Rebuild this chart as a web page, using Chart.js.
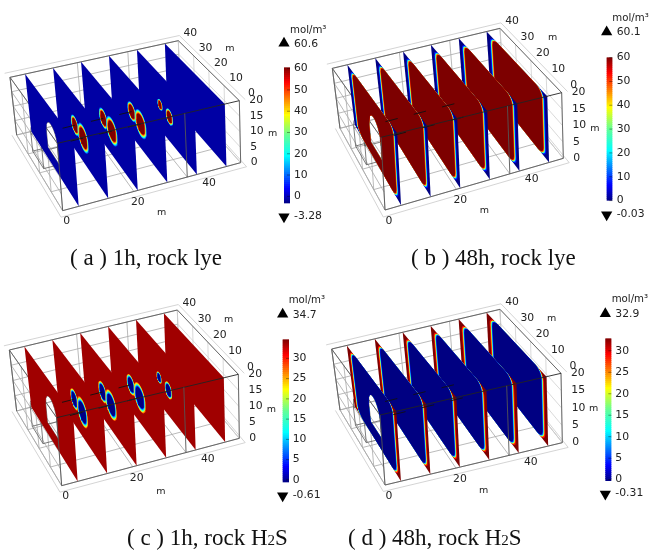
<!DOCTYPE html>
<html>
<head>
<meta charset="utf-8">
<script src="https://cdn.jsdelivr.net/npm/chart.js@4"></script>
<style>
    html, body { margin: 0; padding: 0; background: #fff; }
    #wrap { position: relative; width: 653px; height: 550px; overflow: hidden; }
    #chart { position: absolute; left: 0; top: 0; filter: blur(0.55px); }
    .cap { position: absolute; font-family: "Liberation Serif", serif; font-size: 23px; line-height: 26px; color: #111; white-space: pre; }
    .cap span { font-size: 15px; }
</style>
</head>
<body>
<div id="wrap">
    <canvas id="chart" width="653" height="550"></canvas>
    <div class="cap" style="left:70px;top:245px">( a ) 1h, rock lye</div>
    <div class="cap" style="left:411px;top:245px">( b ) 48h, rock lye</div>
    <div class="cap" style="left:127px;top:525px">( c ) 1h, rock H<span>2</span>S</div>
    <div class="cap" style="left:348px;top:525px">( d ) 48h, rock H<span>2</span>S</div>
</div>
<script>
// model size in metres
const sizeX = 50, sizeY = 40, sizeZ = 20;
const sliceX = [4.5, 12.8, 21.1, 29.4, 37.7, 46];

// tubes cut by the slices: slice index, y, z, radius
const tubeSlice = [1, 1, 2, 2, 3, 3, 4, 4];
const tubeY = [25, 18.5, 25, 18.5, 25, 18.5, 25, 18.5];
const tubeZ = [9, 8.5, 9, 8.5, 9, 8.5, 9, 8.5];
const tubeR = [3.1, 4.4, 3.2, 4.4, 3.1, 4.4, 1.8, 2.6];

// tick values of the box
const tickX = [0, 20, 40];
const tickY = [0, 10, 20, 30, 40];
const tickZ = [0, 5, 10, 15, 20];
const gridX = [0, 20, 35, 50];

// colour bars
const barMin = [-3.28, -0.03, -0.61, -0.31];
const barMax = [60.6, 60.1, 34.7, 32.9];
const barTicks = [
    [0, 10, 20, 30, 40, 50, 60],
    [0, 10, 20, 30, 40, 50, 60],
    [0, 5, 10, 15, 20, 25, 30],
    [0, 5, 10, 15, 20, 25, 30]
];

// rings round a tube [radius factor, level], rims of the long slices [inset m, level]
const tubeRings = [[1, .2], [.94, .34], [.89, .48], [.84, .62], [.79, .74], [.74, .86], [.69, 1]];
const edgeRims = [[1.8, .12], [2.4, .25], [2.6, .37], [2.8, .5], [3, .62], [3.2, .75], [3.4, .88], [3.7, 1]];

const jetStops = [
    [0, 0, 0, 130], [.11, 0, 0, 255], [.35, 0, 255, 255], [.5, 100, 255, 150],
    [.65, 255, 255, 0], [.89, 255, 0, 0], [1, 125, 0, 0]
];

// layout, all measured on 3x crops of each quadrant
const cropOrigin = [[0, 0], [325, 0], [0, 275], [325, 275]];
// corners: 000, 100, 001, 101, 010, 110, 011, 111 (x y z)
const cameras = [
    [[188, 632], [722, 488], [172, 430], [718, 302], [50, 405], [540, 285], [30, 232], [535, 122]],
    [[180, 630], [715, 475], [168, 412], [710, 278], [45, 385], [535, 255], [22, 205], [525, 85]],
    [[185, 632], [718, 490], [170, 428], [715, 298], [50, 408], [537, 275], [28, 225], [532, 105]],
    [[180, 630], [712, 503], [165, 420], [708, 295], [45, 405], [533, 278], [20, 222], [525, 103]]
];
const barBox = [[852, 870, 202, 610], [845, 862, 172, 602], [848, 867, 193, 622], [841, 859, 190, 618]];
const titleX = [[485, 637], [478, 632], [483, 650], [476, 647]];
const titleY = [[690, 145], [683, 112], [686, 133], [680, 132]];
const titleZ = [[818, 402], [810, 385], [814, 403], [806, 401]];
const unitPos = [[870, 90], [862, 55], [866, 75], [860, 73]];
const topY = [132, 98, 120, 118];
const bottomY = [648, 642, 660, 655];

// panel a and c show tubes, b and d the long rims; c and d have the colours turned round
const isEdge = [false, true, false, true];
const isFlipped = [false, false, true, true];

function jet(t) {
    t = Math.max(0, Math.min(1, t));
    for (let i = 1; i < jetStops.length; i++) {
        if (t <= jetStops[i][0]) {
            const a = jetStops[i - 1], b = jetStops[i];
            const f = (t - a[0]) / (b[0] - a[0]);
            return 'rgb(' + [1, 2, 3].map(k => Math.round(a[k] + (b[k] - a[k]) * f)).join(',') + ')';
        }
    }
    return 'rgb(125,0,0)';
}

function project(p, x, y, z) {
    const c = cameras[p], u = x / sizeX, v = y / sizeY, w = z / sizeZ;
    const out = [0, 1].map(k => {
        const b0 = c[0][k] + (c[1][k] - c[0][k]) * u, t0 = c[2][k] + (c[3][k] - c[2][k]) * u;
        const b1 = c[4][k] + (c[5][k] - c[4][k]) * u, t1 = c[6][k] + (c[7][k] - c[6][k]) * u;
        const near = b0 + (t0 - b0) * w, far = b1 + (t1 - b1) * w;
        return near + (far - near) * v;
    });
    return { x: cropOrigin[p][0] + out[0] / 3, y: cropOrigin[p][1] + out[1] / 3 };
}

function crop(p, x, y) {
    return { x: cropOrigin[p][0] + x / 3, y: cropOrigin[p][1] + y / 3 };
}

const marks = [];
const texts = [];

function addLine(pts, color, width) {
    marks.push({ data: pts, showLine: true, fill: false, borderColor: color, borderWidth: width, pointRadius: 0 });
}
function addFill(pts, color) {
    marks.push({ data: pts, showLine: true, fill: 'shape', backgroundColor: color, borderColor: color, borderWidth: 0, pointRadius: 0 });
}
function addText(text, pos, align, font) {
    texts.push({ text: text, x: pos.x, y: pos.y, align: align || 'left', font: font || '10.8px "DejaVu Sans"' });
}

// outline in the plane of a slice, y and z in metres
function rimShape(inset) {
    const y0 = inset, y1 = sizeY - inset, r = 4, rz = 2.5, pts = [];
    const corners = [[y0 + r, rz, 180], [y1 - r, rz, 270], [y1 - r, sizeZ - rz, 0], [y0 + r, sizeZ - rz, 90]];
    corners.forEach(c => {
        for (let a = 0; a <= 90; a += 15) {
            const rad = (c[2] + a) * Math.PI / 180;
            pts.push([c[0] + r * Math.cos(rad), c[1] + rz * Math.sin(rad)]);
        }
    });
    return pts;
}
function holeShape() {
    const pts = [[15.5, 4], [25, 4], [25, 9.5]];
    for (let a = 15; a < 180; a += 15) {
        pts.push([20.25 + 4.75 * Math.cos(a * Math.PI / 180), 9.5 + 4.75 * Math.sin(a * Math.PI / 180)]);
    }
    pts.push([15.5, 9.5]);
    return pts;
}
function slicePts(p, x, shape, withHole) {
    let pts = shape;
    if (withHole) {
        const hole = holeShape().reverse();
        pts = shape.concat([shape[0]], hole, [hole[0]], [shape[0]]);
    }
    return pts.map(q => project(p, x, q[0], q[1]));
}

function addBox(p) {
    const light = '#cfcfcf', mid = '#a8a8a8', dark = '#5c5c5c';
    gridX.forEach(x => {
        addLine([project(p, x, 0, 0), project(p, x, sizeY, 0)], mid, 0.8);
        addLine([project(p, x, sizeY, 0), project(p, x, sizeY, sizeZ)], mid, 0.8);
    });
    tickY.forEach(y => {
        addLine([project(p, 0, y, 0), project(p, sizeX, y, 0)], mid, 0.8);
        addLine([project(p, 0, y, 0), project(p, 0, y, sizeZ)], mid, 0.8);
        addLine([project(p, sizeX, y, 0), project(p, sizeX, y, sizeZ)], light, 0.8);
    });
    tickZ.forEach(z => {
        addLine([project(p, 0, 0, z), project(p, 0, sizeY, z)], mid, 0.8);
        addLine([project(p, 0, sizeY, z), project(p, sizeX, sizeY, z)], mid, 0.8);
        addLine([project(p, sizeX, 0, z), project(p, sizeX, sizeY, z)], light, 0.8);
    });
    // the lighter outer frame
    const sx = -1, ex = sizeX + 1, sy = -1.5, ey = sizeY + 1.5;
    addLine([project(p, sx, sy, -0.8), project(p, ex, sy, -0.8), project(p, ex, ey, -0.8)], light, 0.9);
    addLine([project(p, sx, sy, -0.8), project(p, sx, ey, -0.8)], light, 0.9);
    addLine([project(p, sx, ey, 20.8), project(p, ex, ey, 20.8), project(p, ex, sy, 20.8)], light, 0.9);
    addLine([project(p, 0, 0, sizeZ), project(p, 0, sizeY, sizeZ), project(p, sizeX, sizeY, sizeZ)], dark, 0.9);
    addLine([project(p, 0, 0, 0), project(p, sizeX, 0, 0), project(p, sizeX, 0, sizeZ)], dark, 0.9);
    addLine([project(p, sizeX, sizeY, sizeZ), project(p, sizeX, 0, sizeZ)], dark, 0.9);
    addLine([project(p, 0, sizeY, 0), project(p, 0, sizeY, sizeZ)], dark, 0.9);
    // tunnel wire behind the first slice
    const wire = holeShape();
    wire.push(wire[0]);
    addLine(wire.map(q => project(p, 0, q[0], q[1])), dark, 0.8);
    addLine(wire.map(q => project(p, sliceX[0], q[0], q[1])), dark, 0.8);
    [[15.5, 4], [25, 4], [25, 9.5], [15.5, 9.5]].forEach(q => {
        addLine([project(p, 0, q[0], q[1]), project(p, sliceX[0], q[0], q[1])], dark, 0.8);
    });
}

function addSlices(p) {
    const level = t => jet(isFlipped[p] ? 1 - t : t);
    const plain = [[0, 0], [sizeY, 0], [sizeY, sizeZ], [0, sizeZ]];
    for (let i = sliceX.length - 1; i >= 0; i--) {
        const x = sliceX[i];
        const base = isEdge[p] ? 0 : 0.03;
        addFill(slicePts(p, x, plain, i === 0), level(base));
        if (isEdge[p]) {
            edgeRims.forEach(r => addFill(slicePts(p, x, rimShape(r[0]), i === 0), level(r[1])));
        } else {
            tubeSlice.forEach((s, k) => {
                if (s !== i) return;
                tubeRings.forEach(r => {
                    const pts = [];
                    for (let a = 0; a < 360; a += 12) {
                        const rad = a * Math.PI / 180;
                        pts.push(project(p, x, tubeY[k] + tubeR[k] * r[0] * Math.cos(rad), tubeZ[k] + tubeR[k] * r[0] * Math.sin(rad)));
                    }
                    addFill(pts, level(r[1]));
                });
            });
        }
    }
}

function addFront(p) {
    tubeSlice.forEach((s, k) => {
        if (s > 3) return;
        addLine([project(p, sliceX[s] - 3.6, tubeY[k], tubeZ[k]), project(p, sliceX[s], tubeY[k], tubeZ[k])], '#111', 0.9);
    });
    addLine([project(p, 0, 0, sizeZ), project(p, sizeX, 0, sizeZ)], '#222', 0.9);
    addLine([project(p, 0, 0, 0), project(p, 0, 0, sizeZ)], '#555', 0.9);
    addLine([project(p, 35, 0, 0), project(p, 35, 0, sizeZ)], '#555', 0.9);
}

function addLabels(p) {
    tickX.forEach(v => {
        const q = project(p, v, 0, 0);
        addText(String(v), { x: q.x + 4, y: q.y + 11 }, 'center');
    });
    tickY.forEach(v => {
        const q = project(p, sizeX, v, sizeZ);
        addText(String(v), { x: q.x + 12, y: q.y - 7 }, 'center');
    });
    tickZ.forEach(v => {
        const q = project(p, sizeX, 0, v);
        addText(String(v), { x: q.x + 10, y: q.y }, 'left');
    });
    addText('m', crop(p, titleX[p][0], titleX[p][1]), 'center', '9.5px "DejaVu Sans"');
    addText('m', crop(p, titleY[p][0], titleY[p][1]), 'center', '9.5px "DejaVu Sans"');
    addText('m', crop(p, titleZ[p][0], titleZ[p][1]), 'center', '9.5px "DejaVu Sans"');
}

function addBar(p) {
    const b = barBox[p], min = barMin[p], max = barMax[p];
    const valueY = v => b[3] + (b[2] - b[3]) * (v - min) / (max - min);
    const bands = 70;
    for (let i = 0; i < bands; i++) {
        const y0 = b[3] + (b[2] - b[3]) * i / bands, y1 = b[3] + (b[2] - b[3]) * (i + 1.4) / bands;
        const top = Math.max(y1, b[2]);
        addFill([crop(p, b[0], y0), crop(p, b[1], y0), crop(p, b[1], top), crop(p, b[0], top)], jet((i + .5) / bands));
    }
    barTicks[p].forEach(v => {
        const y = valueY(v);
        addLine([crop(p, b[1] - 9, y), crop(p, b[1], y)], 'rgba(0,0,0,.55)', 0.7);
        addText(String(v), crop(p, b[0] + 30, y));
    });
    addText('mol/m\u00b3', crop(p, unitPos[p][0], unitPos[p][1]), 'left', '10.2px "DejaVu Sans"');
    addText(String(max), crop(p, b[0] + 30, topY[p]));
    addText(String(min), crop(p, b[0] + 30, bottomY[p]));
    marks.push({ data: [crop(p, b[0], topY[p] - 2)], pointStyle: 'triangle', rotation: 0, pointRadius: 6.5, backgroundColor: '#000', borderWidth: 0 });
    marks.push({ data: [crop(p, b[0], bottomY[p] + 2)], pointStyle: 'triangle', rotation: 180, pointRadius: 6.5, backgroundColor: '#000', borderWidth: 0 });
}

for (let p = 0; p < 4; p++) {
    addBox(p);
    addSlices(p);
    addFront(p);
    addLabels(p);
    addBar(p);
}

const textPlugin = {
    id: 'sceneText',
    afterDatasetsDraw(chart) {
        const ctx = chart.ctx;
        ctx.save();
        ctx.fillStyle = '#222';
        ctx.textBaseline = 'middle';
        texts.forEach(t => {
            ctx.font = t.font;
            ctx.textAlign = t.align;
            ctx.fillText(t.text, chart.scales.x.getPixelForValue(t.x), chart.scales.y.getPixelForValue(t.y));
        });
        ctx.restore();
    }
};

// first dataset is painted last, so the list goes in backwards
new Chart(document.getElementById('chart').getContext('2d'), {
    type: 'scatter',
    data: { datasets: marks.reverse() },
    options: {
        responsive: false,
        animation: false,
        layout: { padding: 0, autoPadding: false },
        plugins: { legend: { display: false }, tooltip: { enabled: false } },
        scales: {
            x: { type: 'linear', min: 0, max: 653, display: false },
            y: { type: 'linear', min: 0, max: 550, reverse: true, display: false }
        }
    },
    plugins: [textPlugin]
});
</script>
</body>
</html>
